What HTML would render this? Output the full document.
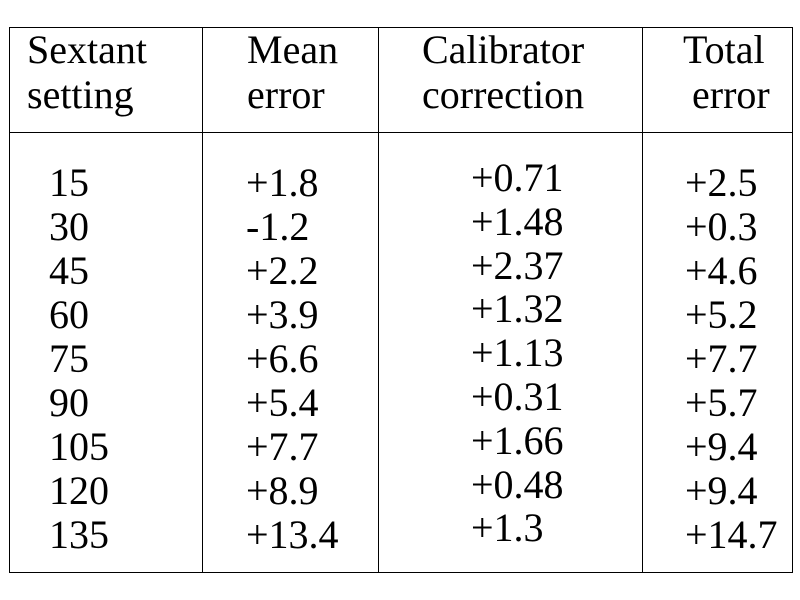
<!DOCTYPE html>
<html><head><style>
body{margin:0;width:800px;height:600px;background:#fff;position:relative;overflow:hidden;font-family:"Liberation Serif",serif;font-size:40px;color:#000}
.l{position:absolute;background:#000}
.t{position:absolute;line-height:40px;white-space:nowrap}
</style></head><body>
<div class="l" style="left:9px;top:27px;width:784px;height:1px"></div>
<div class="l" style="left:9px;top:572px;width:784px;height:1px"></div>
<div class="l" style="left:9px;top:27px;width:1px;height:546px"></div>
<div class="l" style="left:792px;top:27px;width:1px;height:546px"></div>
<div class="l" style="left:202px;top:27px;width:1px;height:546px"></div>
<div class="l" style="left:378px;top:27px;width:1px;height:546px"></div>
<div class="l" style="left:642px;top:27px;width:1px;height:546px"></div>
<div class="l" style="left:9px;top:132px;width:784px;height:1px"></div>

<div class="t" style="left:27px;top:30px">Sextant</div>
<div class="t" style="left:27px;top:75px">setting</div>
<div class="t" style="left:247px;top:30px">Mean</div>
<div class="t" style="left:247px;top:75px">error</div>
<div class="t" style="left:422px;top:30px">Calibrator</div>
<div class="t" style="left:422px;top:75px">correction</div>
<div class="t" style="left:683px;top:30px">Total</div>
<div class="t" style="left:692px;top:75px">error</div>

<div class="t" style="left:49px;top:161px;line-height:44px">15<br>30<br>45<br>60<br>75<br>90<br>105<br>120<br>135</div>
<div class="t" style="left:246px;top:161px;line-height:44px">+1.8<br>-1.2<br>+2.2<br>+3.9<br>+6.6<br>+5.4<br>+7.7<br>+8.9<br>+13.4</div>
<div class="t" style="left:471px;top:156px;line-height:43.8px">+0.71<br>+1.48<br>+2.37<br>+1.32<br>+1.13<br>+0.31<br>+1.66<br>+0.48<br>+1.3</div>
<div class="t" style="left:685px;top:161px;line-height:44px">+2.5<br>+0.3<br>+4.6<br>+5.2<br>+7.7<br>+5.7<br>+9.4<br>+9.4<br>+14.7</div>
</body></html>
